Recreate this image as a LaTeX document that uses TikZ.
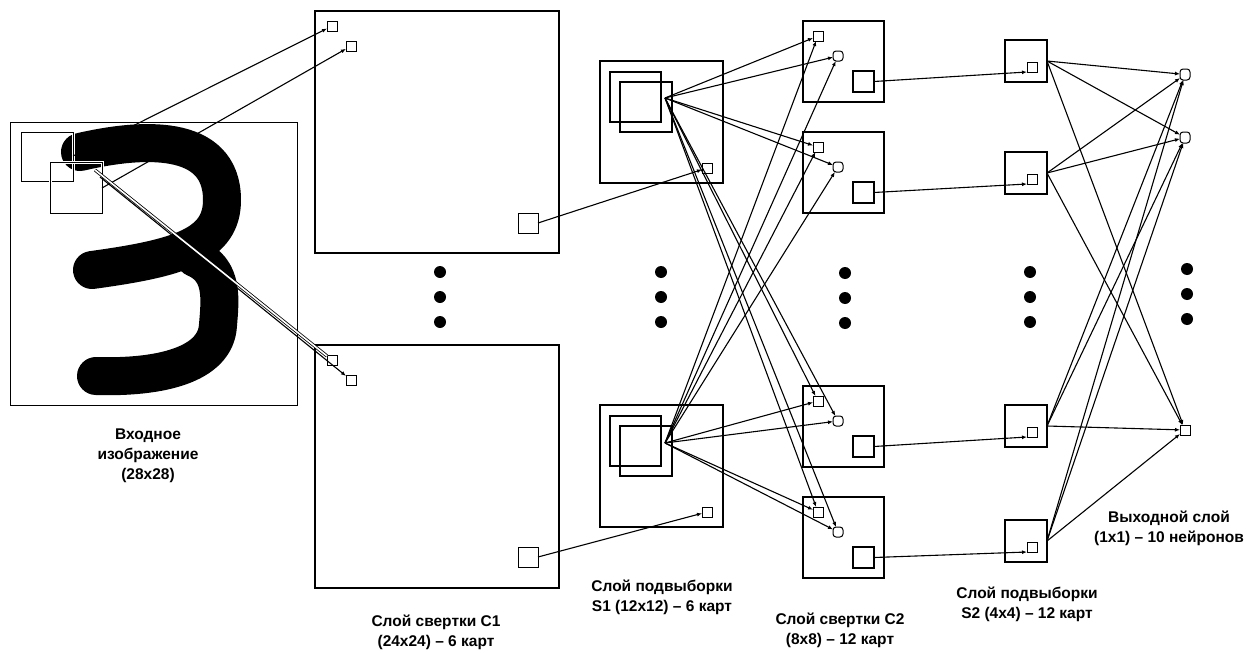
\documentclass[tikz,border=0pt]{standalone}
\usepackage{fontspec}
\setmainfont{Liberation Sans}
\usetikzlibrary{arrows.meta}
\begin{document}
\begin{tikzpicture}[x=1pt,y=-1pt,
  bx/.style={draw, inner sep=0pt, outer sep=0pt, anchor=north west, fill=white},
  conn/.style={line width=1.1pt, -{Latex[length=5pt,width=4pt]}},
  lbl/.style={font=\fontsize{15.5}{20}\selectfont\bfseries, align=center},
  bigdot/.style={circle, fill, inner sep=0pt, minimum size=12pt}]
\useasboundingbox (0,0) rectangle (1258,653);

% ---------- input image ----------
\node[bx, line width=0.9pt, fill=none, minimum width=287pt, minimum height=283pt] (inp) at (10,122) {};
\draw[line width=38pt, line cap=round, line join=round]
  (80,152) .. controls (140,138) and (222,132) .. (222,200)
           .. controls (222,245) and (180,258) .. (92,270);
\draw[line width=38pt, line cap=round, line join=round]
  (195,258) .. controls (224,270) and (220,300) .. (218,325)
            .. controls (216,365) and (160,378) .. (96,376);
\foreach \n/\x/\y/\w/\h in {isq1/21/132/52/49, isq2/50/162/52/51}{
  \draw[white, line width=3pt] (\x,\y) rectangle ++(\w,\h);
  \node[bx, fill=none, line width=1pt, minimum width=\w pt, minimum height=\h pt] (\n) at (\x,\y) {};
}

% ---------- C1 ----------
\node[bx, line width=2pt, minimum width=244pt, minimum height=242pt] (c1a) at (315,11) {};
\node[bx, line width=2pt, minimum width=244pt, minimum height=243pt] (c1b) at (315,345) {};
\node[bx, line width=1pt, minimum width=10pt, minimum height=10pt] (c1asa) at (327,21) {};
\node[bx, line width=1pt, minimum width=10pt, minimum height=10pt] (c1asb) at (346,41) {};
\node[bx, line width=1pt, minimum width=10pt, minimum height=10pt] (c1bsa) at (327,355) {};
\node[bx, line width=1pt, minimum width=10pt, minimum height=10pt] (c1bsb) at (346,375) {};
\node[bx, line width=1pt, minimum width=20pt, minimum height=20pt] (c1abig) at (518,213) {};
\node[bx, line width=1pt, minimum width=20pt, minimum height=20pt] (c1bbig) at (518,547) {};

% ---------- S1 ----------
\foreach \n/\y in {a/61, b/405}{
  \node[bx, line width=1.5pt, minimum width=123pt, minimum height=122pt] (s1\n) at (600,\y) {};
  \node[bx, fill=none, line width=1.1pt, minimum width=51pt, minimum height=50pt] (s1\n i1) at (610,\y+11) {};
  \node[bx, fill=none, line width=1.1pt, minimum width=52pt, minimum height=50pt] (s1\n i2) at (620,\y+21) {};
  \node[bx, line width=1pt, minimum width=10pt, minimum height=10pt] (s1\n sm) at (702,\y+102) {};
}
\coordinate (s1ao) at (665,98);
\coordinate (s1bo) at (665,443);

% ---------- C2 ----------
\foreach \n/\y in {a/21, b/132, c/386, d/497}{
  \node[bx, line width=1.4pt, minimum width=81pt, minimum height=81pt] (c2\n) at (803,\y) {};
  \node[bx, line width=1pt, minimum width=10pt, minimum height=10pt] (c2\n sa) at (813,\y+10) {};
  \node[bx, line width=1pt, rounded corners=3pt, minimum width=10pt, minimum height=10pt] (c2\n sb) at (833,\y+30) {};
  \node[bx, line width=1.2pt, minimum width=21pt, minimum height=21pt] (c2\n big) at (853,\y+50) {};
}

% ---------- S2 ----------
\foreach \n/\y in {a/40, b/152, c/405, d/520}{
  \node[bx, line width=1.3pt, minimum width=42pt, minimum height=42pt] (s2\n) at (1005,\y) {};
  \node[bx, line width=1pt, minimum width=10pt, minimum height=10pt] (s2\n in) at (1027,\y+22) {};
}

% ---------- output ----------
\node[bx, line width=1pt, rounded corners=3pt, minimum width=10pt, minimum height=11pt] (o1) at (1180,69) {};
\node[bx, line width=1pt, rounded corners=3pt, minimum width=10pt, minimum height=11pt] (o2) at (1180,132) {};
\node[bx, line width=1pt, minimum width=10pt, minimum height=10pt] (o3) at (1180,425) {};

% ---------- connectors ----------
\coordinate (p1) at (73,156);
\coordinate (p2) at (102,188);
\coordinate (p3) at (95,170);
\coordinate (p4) at (100,177);
\draw[conn] (p1) -- (c1asa);
\draw[conn] (p2) -- (c1asb);
\draw[line width=0.8pt, double, double distance=1.6pt] (p3) -- (c1bsa);
\draw[conn] (p4) -- (c1bsb);

\draw[conn] (c1abig.east) -- (s1asm);
\draw[conn] (c1bbig.east) -- (s1bsm);

\foreach \s in {s1ao, s1bo}{
  \foreach \n in {a,b,c,d}{
    \draw[conn] (\s) -- (c2\n sa);
    \draw[conn] (\s) -- (c2\n sb);
  }
}

\foreach \n in {a,b,c,d}{
  \draw[conn] (c2\n big.east) -- (s2\n in.south west);
  \foreach \o in {1,2,3}{
    \draw[conn] (s2\n.east) -- (o\o);
  }
}

% ---------- dots ----------
\foreach \x/\a in {440/0, 661/0, 845/1, 1030/0, 1187/-3}{
  \foreach \k in {0,1,2}{
    \node[bigdot] (d\x-\k) at (\x,272+\a+25*\k) {};
  }
}

% ---------- labels ----------
\node[lbl] (lin) at (148,456) {Входное\\изображение\\(28x28)};
\node[lbl] (lc1) at (436,632) {Слой свертки C1\\(24x24) – 6 карт};
\node[lbl] (ls1) at (662,597) {Слой подвыборки\\S1 (12x12) – 6 карт};
\node[lbl] (lc2) at (840,630) {Слой свертки C2\\(8x8) – 12 карт};
\node[lbl] (ls2) at (1027,604) {Слой подвыборки\\S2 (4x4) – 12 карт};
\node[lbl] (lout) at (1169,528) {Выходной слой\\(1x1) – 10 нейронов};
\end{tikzpicture}
\end{document}
